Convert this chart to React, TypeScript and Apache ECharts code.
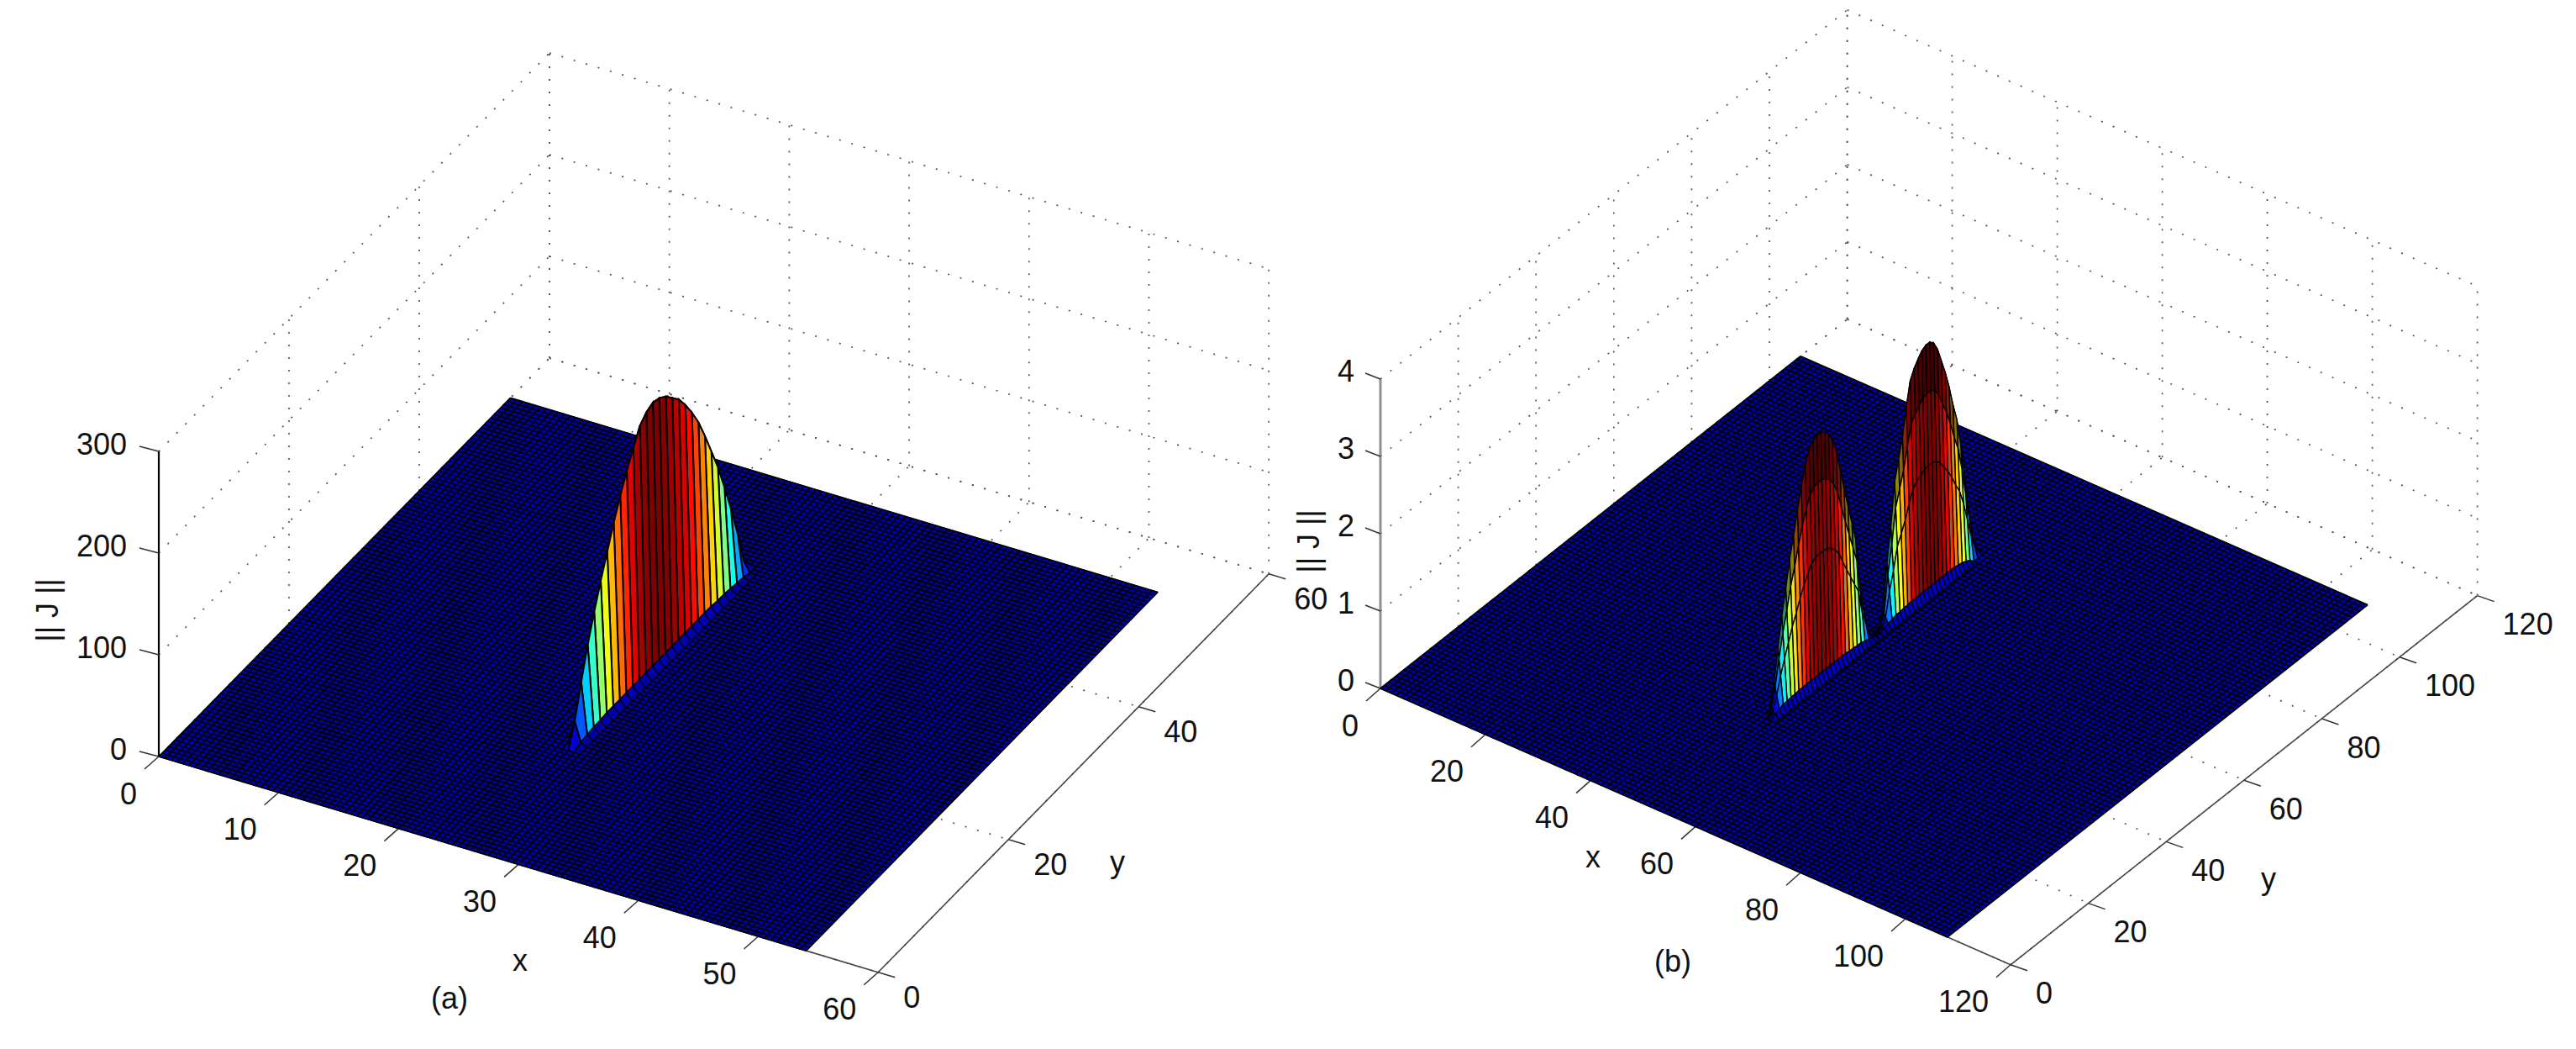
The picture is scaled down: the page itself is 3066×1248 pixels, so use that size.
import React, { useEffect, useRef } from 'react';
import * as echarts from 'echarts';

// panel (a) data
const xTicksA = [0, 10, 20, 30, 40, 50, 60];
const yTicksA = [0, 20, 40, 60];
const zTicksA = [0, 100, 200, 300];
const ridgeStartA = 15; // y of the first ridge value
const ridgeA = [0, 22, 54, 84, 110, 134, 156, 178, 198, 216, 232, 247, 254, 257, 255, 250, 242, 234, 222, 208, 192, 172, 150, 128, 102, 74, 44, 10, 0];
const footA = [0, 3, 4, 5, 5, 6, 6, 6, 6, 6, 6, 6, 6, 6, 6, 6, 6, 6, 6, 6, 6, 6, 5, 5, 4, 3, 2, 0, 0];

// panel (b) data
const xTicksB = [0, 20, 40, 60, 80, 100, 120];
const yTicksB = [0, 20, 40, 60, 80, 100, 120];
const zTicksB = [0, 1, 2, 3, 4];
const ridgeStartB = 29;
const ridgeB = [
  0, 0.05, 0.4, 0.8, 1.17, 1.48, 1.82, 2.08, 2.38, 2.65, 2.88, 3.05, 3.13, 3.15, 3.15, 3.12, 3.05, 2.93, 2.75, 2.46, 2.18, 1.92, 1.66, 1.4, 0.78, 0.42, 0.08,
  0.02, 0.02, 0.03, 0.2, 0.78, 1.2, 1.75, 2.0, 2.25, 2.6, 2.9, 3.02, 3.1, 3.17, 3.2, 3.2, 3.15, 3.03, 2.84, 2.65, 2.42, 2.15, 1.92, 1.55, 1.08, 0.61, 0.25, 0.06, 0,
];
const footB = [
  0, 0.06, 0.08, 0.1, 0.1, 0.11, 0.11, 0.12, 0.12, 0.12, 0.12, 0.12, 0.12, 0.12, 0.12, 0.12, 0.12, 0.12, 0.12, 0.12, 0.11, 0.11, 0.1, 0.1, 0.08, 0.07, 0.05,
  0.03, 0.03, 0.05, 0.07, 0.08, 0.1, 0.1, 0.11, 0.11, 0.12, 0.12, 0.12, 0.12, 0.12, 0.12, 0.12, 0.12, 0.12, 0.12, 0.12, 0.12, 0.11, 0.1, 0.08, 0.05, 0, 0, 0, 0,
];

const panelA = {
  ox: 189, oy: 900, xv: [14.27, 4.28], yv: [7.75, -7.9], zu: 1.21,
  xMax: 60, yMax: 60, zMax: 300, floorMax: 54, meshStep: 0.5,
  xTicks: xTicksA, yTicks: yTicksA, zTicks: zTicksA,
  ridge: ridgeA, foot: footA, ridgeStart: ridgeStartA, ridgeX: 26, ridgeStep: 1, cMax: 257,
  wallDx: 0.5, footDx: 0.5, footBoost: 2, wallBands: [] as number[],
  xTick: [-17, 15], yTick: [20, 6], zTick: [-23, -6],
  xLab: [-26, 44], yLab: [30, 30], zLab: [-38, -9],
  zAxis: { stroke: '#000', lineWidth: 2.2 },
  xName: [619, 1142], yName: [1330, 1025], zName: [56, 726], tag: '(a)', tagPos: [535, 1187],
  wallWidth: 2,
};
const panelB = {
  ox: 1643, oy: 819, xv: [6.25, 2.74], yv: [4.63, -3.66], zu: 92,
  xMax: 120, yMax: 120, zMax: 4, floorMax: 108, meshStep: 1,
  xTicks: xTicksB, yTicks: yTicksB, zTicks: zTicksB,
  ridge: ridgeB, foot: footB, ridgeStart: ridgeStartB, ridgeX: 52, ridgeStep: 1, cMax: 3.2,
  wallDx: 1, footDx: 0.6, footBoost: 1.8, wallBands: [0.8, 0.5],
  xTick: [-17, 15], yTick: [20, 7], zTick: [-18, -7],
  xLab: [-26, 44], yLab: [30, 34], zLab: [-31, -10],
  zAxis: { stroke: '#8f8f8f', lineWidth: 3 },
  xName: [1896, 1019], yName: [2700, 1045], zName: [1557, 644], tag: '(b)', tagPos: [1991, 1143],
  wallWidth: 1.4,
};

const FONT = '"Liberation Sans", Arial, sans-serif';
const dotted = { stroke: '#555', lineWidth: 1.7, lineDash: [2, 13] };
const axisLine = { stroke: '#444', lineWidth: 1.6 };
const tickLine = { stroke: '#333', lineWidth: 1.5 };

// matlab's jet colormap, k darkens it
const jet = (v: number, k = 1) => {
  const c = (t: number) => Math.round(255 * k * Math.max(0, Math.min(1, t)));
  const r = c(1.5 - Math.abs(4 * v - 3));
  const g = c(1.5 - Math.abs(4 * v - 2));
  const b = c(1.5 - Math.abs(4 * v - 1));
  return `rgb(${r},${g},${b})`;
};

type Mark = any;

const buildMarks = (p: typeof panelA): Mark[] => {
  const pr = (x: number, y: number, z: number) => [
    p.ox + x * p.xv[0] + y * p.yv[0],
    p.oy + x * p.xv[1] + y * p.yv[1] - z * p.zu,
  ];
  const marks: Mark[] = [];
  const seg = (a: number[], b: number[], style: any) => marks.push({ kind: 'line', a, b, style });
  const quad = (pts: number[][], style: any) => marks.push({ kind: 'polygon', pts, style });
  const text = (t: string, at: number[], align: string, extra: any = {}) => marks.push({ kind: 'text', t, at, align, ...extra });

  // grid on the two walls and the floor
  p.zTicks.forEach((z) => {
    seg(pr(0, 0, z), pr(0, p.yMax, z), dotted);
    seg(pr(0, p.yMax, z), pr(p.xMax, p.yMax, z), dotted);
  });
  p.yTicks.forEach((y) => {
    if (y > 0) seg(pr(0, y, 0), pr(0, y, p.zMax), dotted);
    seg(pr(0, y, 0), pr(p.xMax, y, 0), dotted);
  });
  p.xTicks.forEach((x) => {
    seg(pr(x, p.yMax, 0), pr(x, p.yMax, p.zMax), dotted);
    seg(pr(x, 0, 0), pr(x, p.yMax, 0), dotted);
  });

  // axes, ticks, tick labels
  seg(pr(0, 0, 0), pr(0, 0, p.zMax), p.zAxis);
  seg(pr(0, 0, 0), pr(p.xMax, 0, 0), axisLine);
  seg(pr(p.xMax, 0, 0), pr(p.xMax, p.yMax, 0), axisLine);
  p.xTicks.forEach((x) => {
    const a = pr(x, 0, 0);
    seg(a, [a[0] + p.xTick[0], a[1] + p.xTick[1]], tickLine);
    text(String(x), [a[0] + p.xLab[0], a[1] + p.xLab[1]], 'right');
  });
  p.yTicks.forEach((y) => {
    const a = pr(p.xMax, y, 0);
    seg(a, [a[0] + p.yTick[0], a[1] + p.yTick[1]], tickLine);
    text(String(y), [a[0] + p.yLab[0], a[1] + p.yLab[1]], 'left');
  });
  p.zTicks.forEach((z) => {
    const a = pr(0, 0, z);
    seg(a, [a[0] + p.zTick[0], a[1] + p.zTick[1]], tickLine);
    text(String(z), [a[0] + p.zLab[0], a[1] + p.zLab[1]], 'right');
  });
  text('x', p.xName, 'center');
  text('y', p.yName, 'center');
  text('|| J ||', p.zName, 'center', { rotation: Math.PI / 2 });
  text(p.tag, p.tagPos, 'center');

  // floor of the surface: one face and its mesh
  const m = p.floorMax;
  quad([pr(0, 0, 0), pr(m, 0, 0), pr(m, m, 0), pr(0, m, 0)], { fill: '#0000a8', stroke: '#000', lineWidth: 1 });
  const meshLine = { stroke: '#000', lineWidth: 1.7 };
  for (let s = 0; s <= m; s += p.meshStep) {
    seg(pr(s, 0, 0), pr(s, m, 0), meshLine);
    seg(pr(0, s, 0), pr(m, s, 0), meshLine);
  }

  // the ridge, far strips first
  const X = p.ridgeX;
  const last = p.ridge.length - 2;
  const edge = p.wallWidth;
  const col = (z: number, k = 1) => jet(z / p.cMax, k);
  for (let i = last; i >= 0; i--) {
    const y0 = p.ridgeStart + i * p.ridgeStep;
    const y1 = y0 + p.ridgeStep;
    const z0 = p.ridge[i];
    const z1 = p.ridge[i + 1];
    quad([pr(X - p.wallDx, y0, 0), pr(X - p.wallDx, y1, 0), pr(X, y1, z1), pr(X, y0, z0)], { fill: col(Math.max(z0, z1)), stroke: '#000', lineWidth: edge });
  }
  const levels = [1, ...p.wallBands, 0];
  for (let i = last; i >= 0; i--) {
    const y0 = p.ridgeStart + i * p.ridgeStep;
    const y1 = y0 + p.ridgeStep;
    const z0 = p.ridge[i];
    const z1 = p.ridge[i + 1];
    const f0 = p.foot[i];
    const f1 = p.foot[i + 1];
    const at = (y: number, z: number, f: number, t: number) => pr(X + (1 - t) * p.wallDx, y, f + (z - f) * t);
    for (let b = 0; b < levels.length - 1; b++) {
      const hi = levels[b];
      const lo = levels[b + 1];
      // the upper band of a banded wall is seen nearly edge on, so it reads almost black
      const dark = p.wallBands.length > 0 && b === 0 ? 0.55 : 1;
      quad([at(y0, z0, f0, hi), at(y1, z1, f1, hi), at(y1, z1, f1, lo), at(y0, z0, f0, lo)], { fill: col(Math.max(z0, z1), dark), stroke: '#000', lineWidth: edge });
    }
    if (f0 > 0 || f1 > 0) {
      const xe = X + p.wallDx + p.footDx;
      quad([pr(X + p.wallDx, y0, f0), pr(X + p.wallDx, y1, f1), pr(xe, y1, 0), pr(xe, y0, 0)], { fill: col(Math.max(f0, f1) * p.footBoost), stroke: '#000', lineWidth: 1.3 });
    }
  }
  return marks;
};

const draw = (mk: Mark, api: any) => {
  if (mk.kind === 'line') {
    const a = api.coord(mk.a);
    const b = api.coord(mk.b);
    return { type: 'line', silent: true, shape: { x1: a[0], y1: a[1], x2: b[0], y2: b[1] }, style: mk.style };
  }
  if (mk.kind === 'polygon') {
    return { type: 'polygon', silent: true, shape: { points: mk.pts.map((q: number[]) => api.coord(q)) }, style: mk.style };
  }
  const at = api.coord(mk.at);
  return {
    type: 'text',
    silent: true,
    x: at[0],
    y: at[1],
    rotation: mk.rotation || 0,
    style: { text: mk.t, fill: '#111', fontFamily: FONT, fontSize: 36, align: mk.align, verticalAlign: 'middle' },
  };
};

const surfaceSeries = (marks: Mark[]) => ({
  type: 'custom',
  coordinateSystem: 'cartesian2d',
  silent: true,
  clip: false,
  progressive: 0,
  data: marks.map((_, i) => [i, 0]),
  renderItem: (params: any, api: any) => draw(marks[params.dataIndex], api),
});

const App: React.FC = () => {
  const chartRef = useRef<HTMLDivElement>(null);

  useEffect(() => {
    if (!chartRef.current) return;
    const myChart = echarts.init(chartRef.current, undefined, { renderer: 'svg' });
    myChart.setOption({
      animation: false,
      backgroundColor: '#fff',
      grid: { left: 0, right: 0, top: 0, bottom: 0 },
      xAxis: { type: 'value', min: 0, max: 3066, show: false },
      yAxis: { type: 'value', min: 0, max: 1248, inverse: true, show: false },
      series: [surfaceSeries(buildMarks(panelA)), surfaceSeries(buildMarks(panelB))],
    });
    return () => myChart.dispose();
  }, []);

  return <div ref={chartRef} style={{ position: 'absolute', left: 0, top: 0, width: 3066, height: 1248 }} />;
};

export default App;
